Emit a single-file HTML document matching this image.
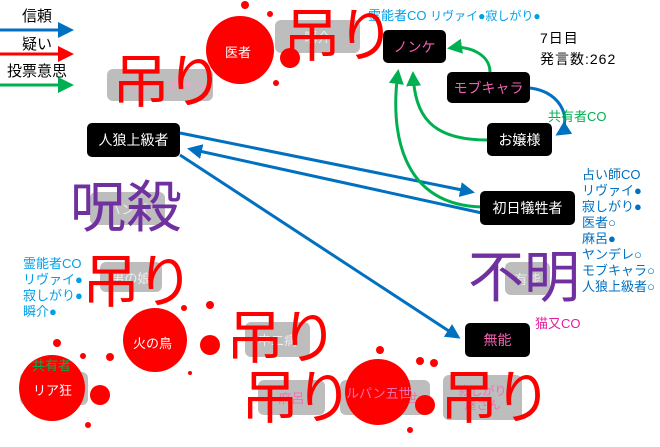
<!DOCTYPE html>
<html><head><meta charset="utf-8"><style>
body{margin:0;width:660px;height:447px;background:#fff;position:relative;overflow:hidden;font-family:"Liberation Sans","Noto Sans CJK JP",sans-serif}
.a{position:absolute;white-space:nowrap}
.bk{position:absolute;background:#000;border-radius:5px;color:#fff;font-size:14px;display:flex;align-items:center;justify-content:center}
.gr{position:absolute;background:#bdbdbd;border-radius:6px;color:#eee;font-size:13px;display:flex;align-items:center;justify-content:center}
.tr{position:absolute;color:#f00;font-size:58px;line-height:58px;white-space:nowrap;letter-spacing:-4px}
.pu{position:absolute;color:#7030a0;font-size:56px;line-height:56px;white-space:nowrap}
.bl{color:#0070c0}.cy{color:#00a0e8}
</style></head><body>
<div class="gr" style="left:107px;top:69px;width:106px;height:32px;color:#f9a0d0">リヴァイアサン</div>
<div class="gr" style="left:275px;top:20px;width:85px;height:33px">瞬介</div>
<div class="gr" style="left:90px;top:192px;width:75px;height:33px">バンパ</div>
<div class="gr" style="left:100px;top:262px;width:62px;height:30px">男の娘</div>
<div class="gr" style="left:245px;top:322px;width:65px;height:35px">中二病</div>
<div class="gr" style="left:258px;top:380px;width:67px;height:35px;color:#f070b0">麻呂</div>
<div class="gr" style="left:340px;top:380px;width:90px;height:35px;color:#f070b0">ルパン五世</div>
<div class="gr" style="left:443px;top:375px;width:79px;height:45px;color:#f070b0;font-size:12px;line-height:14px;text-align:center">寂しがり<br>屋さん</div>
<div class="gr" style="left:505px;top:262px;width:45px;height:33px">有能</div>
<div class="gr" style="left:20px;top:372px;width:68px;height:33px">リア狂</div>
<div class="gr" style="left:125px;top:323px;width:60px;height:33px">火の鳥</div>
<div class="gr" style="left:210px;top:33px;width:60px;height:33px">医者</div>
<svg class="a" style="left:0;top:0" width="660" height="447">
<defs>
<marker id="mb" markerWidth="5" markerHeight="5" refX="4" refY="2.5" orient="auto" markerUnits="strokeWidth"><path d="M0,0L5,2.5L0,5z" fill="#0070c0"/></marker>
<marker id="mg" markerWidth="5" markerHeight="5" refX="4" refY="2.5" orient="auto" markerUnits="strokeWidth"><path d="M0,0L5,2.5L0,5z" fill="#00b050"/></marker>
</defs>
<line x1="0" y1="30" x2="60" y2="30" stroke="#0070c0" stroke-width="3"/><path d="M58,22L74,30L58,38z" fill="#0070c0"/>
<line x1="0" y1="54" x2="60" y2="54" stroke="#f00" stroke-width="3"/><path d="M58,46L74,54L58,62z" fill="#f00"/>
<line x1="0" y1="85" x2="60" y2="85" stroke="#00b050" stroke-width="3"/><path d="M58,77L74,85L58,93z" fill="#00b050"/>
<g fill="none" stroke-width="3">
<line x1="180" y1="133" x2="472" y2="192" stroke="#0070c0" marker-end="url(#mb)"/>
<line x1="482" y1="213" x2="190" y2="149" stroke="#0070c0" marker-end="url(#mb)"/>
<line x1="180" y1="155" x2="458" y2="337" stroke="#0070c0" marker-end="url(#mb)"/>
<path d="M482,207 C400,205 390,130 398,72" stroke="#00b050" marker-end="url(#mg)"/>
<path d="M487,140 C430,140 415,115 413,74" stroke="#00b050" marker-end="url(#mg)"/>
<path d="M490,72 C490,55 470,45 450,48" stroke="#00b050" marker-end="url(#mg)"/>
<path d="M530,88 C565,92 572,125 558,134" stroke="#0070c0" marker-end="url(#mb)"/>
</g>
<g fill="#f00">
<circle cx="240" cy="50" r="34"/><circle cx="290" cy="58" r="10"/><circle cx="245" cy="5" r="4"/><circle cx="270" cy="14" r="3"/><circle cx="276" cy="83" r="3"/>
<circle cx="155" cy="340" r="32"/><circle cx="210" cy="345" r="10"/><circle cx="184" cy="308" r="3"/><circle cx="210" cy="305" r="4"/><circle cx="190" cy="373" r="2"/>
<circle cx="52" cy="388" r="33"/><circle cx="100" cy="395" r="10"/><circle cx="57" cy="343" r="4"/><circle cx="83" cy="356" r="3"/><circle cx="110" cy="357" r="4"/><circle cx="88" cy="425" r="3"/>
<circle cx="378" cy="392" r="33"/><circle cx="425" cy="405" r="10"/><circle cx="380" cy="350" r="4"/><circle cx="420" cy="361" r="4"/><circle cx="434" cy="363" r="4"/><circle cx="410" cy="430" r="3"/>
</g>
</svg>
<div class="a" style="left:22px;top:5px;font-size:15px">信頼</div>
<div class="a" style="left:22px;top:33px;font-size:15px">疑い</div>
<div class="a" style="left:7px;top:60px;font-size:15px">投票意思</div>
<div class="a" style="left:225px;top:42px;color:#fff;font-size:13px">医者</div>
<div class="a" style="left:133px;top:333px;color:#fff;font-size:13px">火の鳥</div>
<div class="a" style="left:33px;top:380px;color:#fff;font-size:13px">リア狂</div>
<div class="a" style="left:32px;top:355px;color:#00b050;font-size:13px">共有者</div>
<div class="a" style="left:346px;top:383px;color:#f070b0;font-size:13px">ルパン五世</div>
<div class="bk" style="left:87px;top:123px;width:93px;height:34px">人狼上級者</div>
<div class="bk" style="left:383px;top:30px;width:63px;height:33px;color:#f060b0">ノンケ</div>
<div class="bk" style="left:447px;top:72px;width:83px;height:31px;color:#f060b0">モブキャラ</div>
<div class="bk" style="left:487px;top:123px;width:65px;height:33px">お嬢様</div>
<div class="bk" style="left:480px;top:191px;width:95px;height:34px">初日犠牲者</div>
<div class="bk" style="left:465px;top:323px;width:65px;height:34px;color:#f060b0">無能</div>
<div class="a cy" style="left:368px;top:5px;font-size:13px">霊能者CO <span style="font-size:12px">リヴァイ●寂しがり●</span></div>
<div class="a" style="left:540px;top:28px;font-size:14px;line-height:21px;letter-spacing:1px">7日目<br>発言数:262</div>
<div class="a" style="left:548px;top:106px;color:#00b050;font-size:13px">共有者CO</div>
<div class="a bl" style="left:582px;top:167px;font-size:13px;line-height:16px">占い師CO<br>リヴァイ●<br>寂しがり●<br>医者○<br>麻呂●<br>ヤンデレ○<br>モブキャラ○<br>人狼上級者○</div>
<div class="a" style="left:535px;top:313px;color:#e020a0;font-size:13px">猫又CO</div>
<div class="a cy" style="left:23px;top:256px;font-size:13px;line-height:16px">霊能者CO<br>リヴァイ●<br>寂しがり●<br>瞬介●</div>
<div class="pu" style="left:70px;top:180px">呪殺</div>
<div class="pu" style="left:468px;top:250px">不明</div>
<div class="tr" style="left:112px;top:54px">吊り</div>
<div class="tr" style="left:283px;top:8px">吊り</div>
<div class="tr" style="left:82px;top:254px">吊り</div>
<div class="tr" style="left:226px;top:310px">吊り</div>
<div class="tr" style="left:241px;top:370px">吊り</div>
<div class="tr" style="left:440px;top:370px">吊り</div>
</body></html>
